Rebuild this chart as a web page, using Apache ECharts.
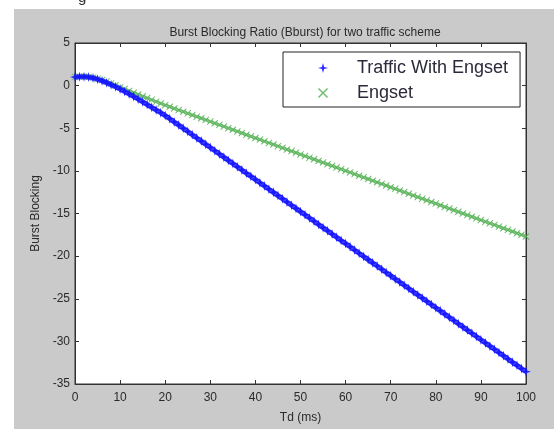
<!DOCTYPE html>
<html>
<head>
<meta charset="utf-8">
<script src="https://cdn.jsdelivr.net/npm/echarts@6/dist/echarts.min.js"></script>
<style>
html,body{margin:0;padding:0;background:#fff;}
#c{width:554px;height:429px;}
</style>
</head>
<body>
<div id="c"></div>
<script>
// Td (ms)
const td = [0,1,2,3,4,5,6,7,8,9,10,11,12,13,14,15,16,17,18,19,20,21,22,23,24,25,26,27,28,29,30,31,32,33,34,35,36,37,38,39,40,41,42,43,44,45,46,47,48,49,50,51,52,53,54,55,56,57,58,59,60,61,62,63,64,65,66,67,68,69,70,71,72,73,74,75,76,77,78,79,80,81,82,83,84,85,86,87,88,89,90,91,92,93,94,95,96,97,98,99,100];

// Traffic With Engset
const trafficWithEngset = [1.00,1.05,1.05,1.00,0.90,0.75,0.56,0.35,0.11,-0.14,-0.41,-0.69,-0.98,-1.28,-1.59,-1.90,-2.22,-2.54,-2.86,-3.18,-3.51,
-3.88,-4.26,-4.63,-5.01,-5.38,-5.76,-6.14,-6.51,-6.89,-7.26,-7.64,-8.01,-8.39,-8.77,-9.14,-9.52,-9.89,-10.27,-10.64,-11.02,
-11.40,-11.77,-12.15,-12.52,-12.90,-13.27,-13.65,-14.03,-14.40,-14.78,-15.15,-15.53,-15.90,-16.28,-16.66,-17.03,-17.41,-17.78,-18.16,-18.53,
-18.91,-19.29,-19.66,-20.04,-20.41,-20.79,-21.16,-21.54,-21.92,-22.29,-22.67,-23.04,-23.42,-23.79,-24.17,-24.55,-24.92,-25.30,-25.67,-26.05,
-26.42,-26.80,-27.18,-27.55,-27.93,-28.30,-28.68,-29.05,-29.43,-29.81,-30.18,-30.56,-30.93,-31.31,-31.68,-32.06,-32.44,-32.81,-33.19,-33.56];

// Engset
const engset = [1.00,1.05,1.06,1.02,0.94,0.82,0.66,0.47,0.26,0.04,-0.18,-0.40,-0.62,-0.83,-1.04,-1.25,-1.46,-1.67,-1.88,-2.09,-2.29,
-2.48,-2.68,-2.87,-3.06,-3.25,-3.45,-3.64,-3.83,-4.02,-4.22,-4.41,-4.60,-4.79,-4.99,-5.18,-5.37,-5.56,-5.76,-5.95,-6.14,
-6.33,-6.53,-6.72,-6.91,-7.10,-7.30,-7.49,-7.68,-7.87,-8.07,-8.26,-8.45,-8.64,-8.84,-9.03,-9.22,-9.41,-9.61,-9.80,-9.99,
-10.18,-10.38,-10.57,-10.76,-10.95,-11.15,-11.34,-11.53,-11.72,-11.92,-12.11,-12.30,-12.49,-12.69,-12.88,-13.07,-13.26,-13.46,-13.65,-13.84,
-14.03,-14.23,-14.42,-14.61,-14.80,-15.00,-15.19,-15.38,-15.57,-15.77,-15.96,-16.15,-16.34,-16.54,-16.73,-16.92,-17.11,-17.31,-17.50,-17.69];

const seriesNames = ['Traffic With Engset','Engset'];
const xTicks = [0,10,20,30,40,50,60,70,80,90,100];
const yTicks = [5,0,-5,-10,-15,-20,-25,-30,-35];

const STAR = 'path://M0,-10 L2.2,-2.2 L10,0 L2.2,2.2 L0,10 L-2.2,2.2 L-10,0 L-2.2,-2.2 Z';
const CROSS = 'path://M-10,-8 L-8,-10 L0,-2 L8,-10 L10,-8 L2,0 L10,8 L8,10 L0,2 L-8,10 L-10,8 L-2,0 Z';

const FONT = 'Liberation Sans';
const TXT = '#2a2a2a';
const BLUE = '#1414ff';
const GREEN = '#55b255';

const chart = echarts.init(document.getElementById('c'), null, {renderer:'canvas'});

const pairs = (ys) => td.map((x,i)=>[x, ys[i]]);

const baseX = {
  type:'value', min:0, max:100, interval:10, gridIndex:0,
  splitLine:{show:false},
  axisLine:{show:true, onZero:false, lineStyle:{color:'#333', width:1}},
  axisTick:{show:true, inside:true, length:4, lineStyle:{color:'#333'}},
};
const baseY = {
  type:'value', min:-35, max:5, interval:5, gridIndex:0,
  splitLine:{show:false},
  axisLine:{show:true, onZero:false, lineStyle:{color:'#333', width:1}},
  axisTick:{show:true, inside:true, length:4, lineStyle:{color:'#333'}},
};

chart.setOption({
  animation:false,
  backgroundColor:'#ffffff',
  graphic:[
    {type:'rect', left:14, top:9, shape:{width:540, height:420}, style:{fill:'#cacaca'}, z:-10, silent:true},
    {type:'text', left:78, top:-10, style:{text:'g', font:'15px "'+FONT+'"', fill:'#333'}, silent:true}
  ],
  title:{
    text:'Burst Blocking Ratio (Bburst) for two traffic scheme',
    left:300, top:22, textAlign:'center',
    textStyle:{fontFamily:FONT, fontSize:12, fontWeight:'normal', color:TXT}
  },
  grid:{left:75, top:43, width:451, height:347, show:true, backgroundColor:'#ffffff', borderColor:'#333', borderWidth:1},
  legend:{
    data:[{name:seriesNames[0], icon:STAR},{name:seriesNames[1], icon:CROSS}],
    orient:'vertical',
    left:283, top:52,
    padding:[7,12,5,35],
    itemWidth:10, itemHeight:10, itemGap:7,
    backgroundColor:'#ffffff',
    borderColor:'#222', borderWidth:1,
    textStyle:{fontFamily:FONT, fontSize:18, lineHeight:18, color:'#2a2a3a', padding:[0,0,0,24]},
    selectedMode:false
  },
  xAxis:[
    Object.assign({}, baseX, {
      position:'bottom',
      name:'Td (ms)', nameLocation:'middle', nameGap:28,
      nameTextStyle:{fontFamily:FONT, fontSize:12, color:TXT},
      axisLabel:{fontFamily:FONT, fontSize:12, color:TXT, margin:8}
    }),
    Object.assign({}, baseX, {position:'top', axisLabel:{show:false}})
  ],
  yAxis:[
    Object.assign({}, baseY, {
      position:'left',
      name:'Burst Blocking', nameLocation:'middle', nameGap:31, nameRotate:90,
      nameTextStyle:{fontFamily:FONT, fontSize:12, color:TXT},
      axisLabel:{fontFamily:FONT, fontSize:12, color:TXT, margin:5}
    }),
    Object.assign({}, baseY, {position:'right', axisLabel:{show:false}})
  ],
  series:[
    {
      name:'Engset', type:'line', xAxisIndex:0, yAxisIndex:0,
      data:pairs(engset),
      showSymbol:true, symbol:CROSS, symbolSize:7,
      lineStyle:{color:GREEN, width:3, opacity:0.7},
      itemStyle:{color:GREEN, opacity:0.85},
      z:2
    },
    {
      name:'Traffic With Engset', type:'line', xAxisIndex:0, yAxisIndex:0,
      data:pairs(trafficWithEngset),
      showSymbol:true, symbol:STAR, symbolSize:10,
      lineStyle:{color:BLUE, width:5, opacity:0.8},
      itemStyle:{color:BLUE, opacity:0.9},
      z:3
    }
  ]
});
</script>
</body>
</html>
